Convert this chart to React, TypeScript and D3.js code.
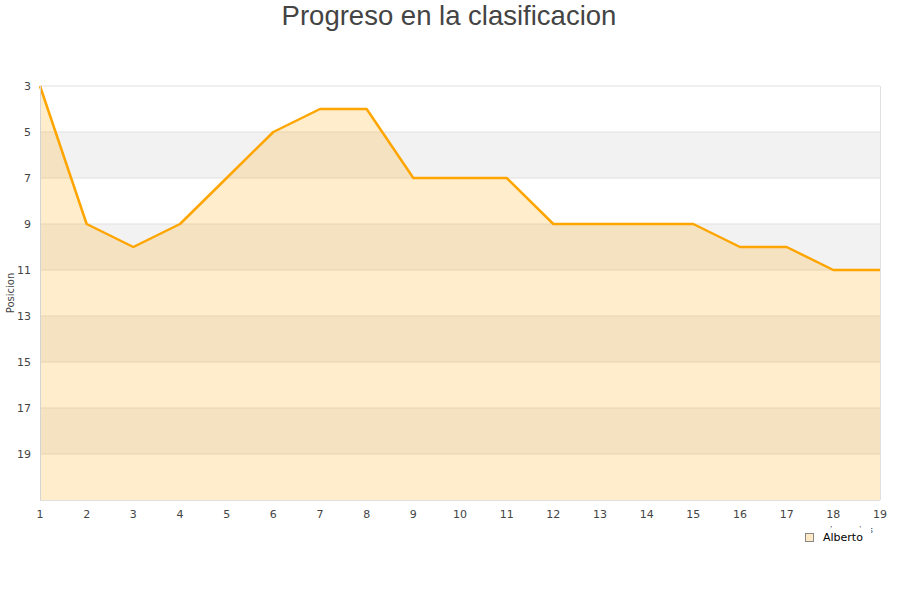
import React from "react";
import * as d3 from "d3";

const jornadas = [1, 2, 3, 4, 5, 6, 7, 8, 9, 10, 11, 12, 13, 14, 15, 16, 17, 18, 19];
const posiciones = [3, 9, 10, 9, 7, 5, 4, 4, 7, 7, 7, 9, 9, 9, 9, 10, 10, 11, 11];
const yTicks = [3, 5, 7, 9, 11, 13, 15, 17, 19];
const serieNombre = "Alberto";
const titulo = "Progreso en la clasificacion";

const W = 900;
const H = 600;
const M = { left: 40, right: 20, top: 86, bottom: 100 };

export default function App() {
  const x = d3.scaleLinear().domain([1, 19]).range([M.left, W - M.right]);
  const y = d3.scaleLinear().domain([3, 21]).range([M.top, H - M.bottom]);
  const pts = jornadas.map((j, i) => [j, posiciones[i]] as [number, number]);
  const line = d3.line<[number, number]>().x((d) => x(d[0])).y((d) => y(d[1]));
  const area = d3
    .area<[number, number]>()
    .x((d) => x(d[0]))
    .y0(y(21))
    .y1((d) => y(d[1]));

  // alternating bands between grid lines
  const bands: [number, number][] = [];
  for (let v = 3; v < 21; v += 2) bands.push([v, v + 2]);

  const font = "'DejaVu Sans', sans-serif";
  return (
    <svg
      width={W}
      height={H}
      style={{ position: "absolute", left: 0, top: 0, background: "#fff" }}
    >
      <text
        x={W / 2 - 1}
        y={25}
        textAnchor="middle"
        fontFamily="'Liberation Sans', Arial, sans-serif"
        fontSize={27.5}
        fill="#444"
      >
        {titulo}
      </text>
      {bands.map(([a, b], i) => (
        <rect
          key={a}
          x={M.left}
          y={y(a)}
          width={x(19) - M.left}
          height={y(b) - y(a)}
          fill={i % 2 === 1 ? "#f2f2f2" : "#ffffff"}
        />
      ))}
      {yTicks.map((t) => (
        <line key={t} x1={M.left} x2={x(19)} y1={y(t)} y2={y(t)} stroke="#e0e0e0" strokeWidth={1} />
      ))}
      <path d={area(pts) || ""} fill="#FFA500" fillOpacity={0.2} />
      <path d={line(pts) || ""} fill="none" stroke="#FFA500" strokeWidth={2.5} strokeLinejoin="round" />
      <line x1={x(19) + 0.5} x2={x(19) + 0.5} y1={y(3)} y2={y(21)} stroke="#e0e0e0" />
      <line x1={M.left + 0.5} x2={M.left + 0.5} y1={y(3)} y2={y(21)} stroke="#d4d4d4" />
      <line x1={M.left} x2={x(19)} y1={y(21) + 0.5} y2={y(21) + 0.5} stroke="#e0e0e0" />
      {yTicks.map((t) => (
        <text key={t} x={31} y={y(t) + 4} textAnchor="end" fontFamily={font} fontSize={11} fill="#444">
          {t}
        </text>
      ))}
      {jornadas.map((j) => (
        <text key={j} x={x(j)} y={518} textAnchor="middle" fontFamily={font} fontSize={11} fill="#444">
          {j}
        </text>
      ))}
      <text
        transform={`translate(14,${y(12)}) rotate(-90)`}
        textAnchor="middle"
        fontFamily={font}
        fontSize={10}
        fill="#444"
      >
        Posicion
      </text>
      <defs>
        {/* the x-axis name sits mostly under the legend; only its edges show */}
        <clipPath id="xname-clip">
          <rect x={826} y={524.5} width={44} height={3} />
          <rect x={871} y={520} width={15} height={20} />
        </clipPath>
      </defs>
      <text
        x={830}
        y={532.5}
        fontFamily={font}
        fontSize={8}
        letterSpacing={1.2}
        fill="#444"
        clipPath="url(#xname-clip)"
      >
        Jornadas
      </text>
      <rect x={805.5} y={533.5} width={8} height={8} fill="#fde9c4" stroke="#888" strokeWidth={1} />
      <text x={823} y={541} fontFamily={font} fontSize={11} fill="#000">
        {serieNombre}
      </text>
    </svg>
  );
}
